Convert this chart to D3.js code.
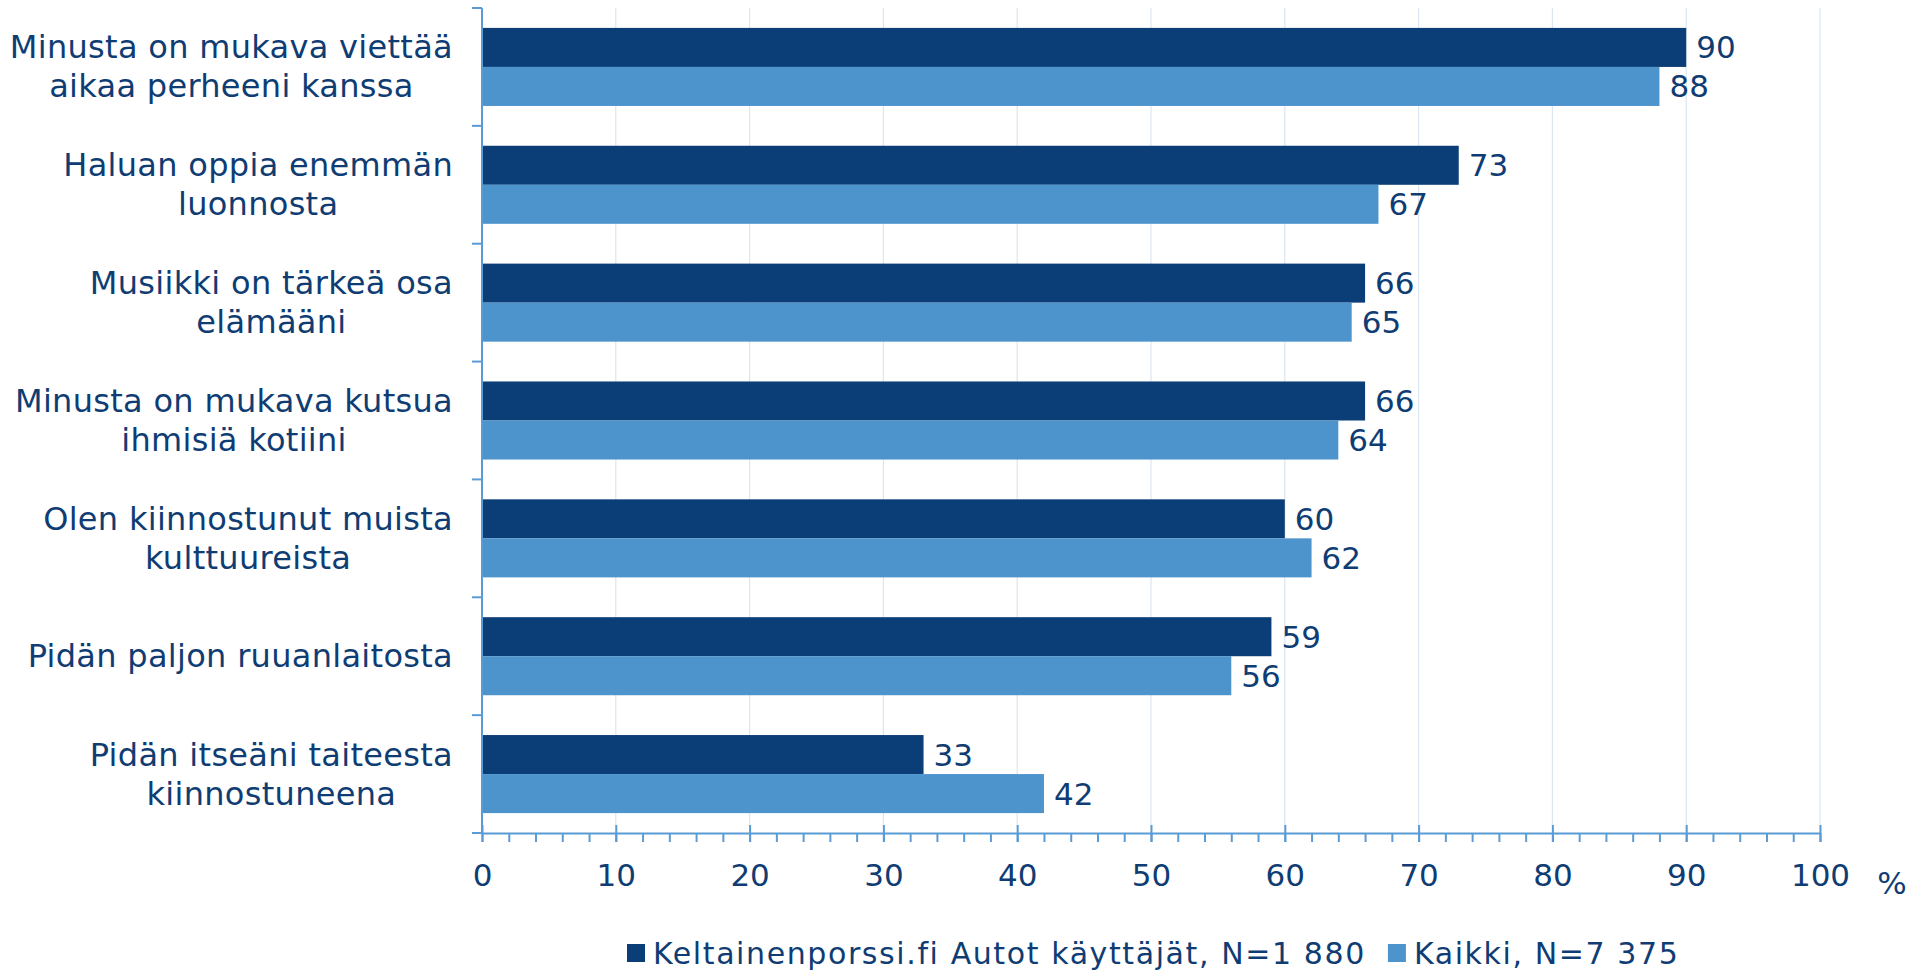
<!DOCTYPE html>
<html>
<head>
<meta charset="utf-8">
<script src="https://cdn.jsdelivr.net/npm/d3@7"></script>
<style>
  html, body { margin: 0; padding: 0; background: #fff; }
  svg text { font-family: "DejaVu Sans", Verdana, sans-serif; fill: #0f3d73; }
</style>
</head>
<body>
<div id="chart"></div>
<script>
// Chart data
const categories = [
  ["Minusta on mukava viettää", "aikaa perheeni kanssa"],
  ["Haluan oppia enemmän", "luonnosta"],
  ["Musiikki on tärkeä osa", "elämääni"],
  ["Minusta on mukava kutsua", "ihmisiä kotiini"],
  ["Olen kiinnostunut muista", "kulttuureista"],
  ["Pidän paljon ruuanlaitosta"],
  ["Pidän itseäni taiteesta", "kiinnostuneena"]
];
const seriesNames = ["Keltainenporssi.fi Autot käyttäjät, N=1 880", "Kaikki, N=7 375"];
const autotValues = [90, 73, 66, 66, 60, 59, 33];
const kaikkiValues = [88, 67, 65, 64, 62, 56, 42];
const xTicks = [0, 10, 20, 30, 40, 50, 60, 70, 80, 90, 100];
const colors = ["#0b3d77", "#4d94cd"];

const W = 1929, H = 971;
const plotLeft = 482, plotRight = 1820, plotTop = 8, plotBottom = 833;

const svg = d3.select("#chart").append("svg")
  .attr("width", W).attr("height", H);

const x = d3.scaleLinear().domain([0, 100]).range([plotLeft, plotRight]);
const catIdx = d3.range(categories.length);
const y0 = d3.scaleBand().domain(catIdx).range([plotTop, plotBottom]);
const y1 = d3.scaleBand().domain([0, 1]).range([0, y0.bandwidth()]).paddingOuter(0.51);

// gridlines
svg.append("g").selectAll("line")
  .data(xTicks.filter(d => d > 0))
  .join("line")
  .attr("x1", d => x(d)).attr("x2", d => x(d))
  .attr("y1", plotTop).attr("y2", plotBottom)
  .attr("stroke", "#dbe6f3").attr("stroke-width", 1.2);

// bars
const rows = catIdx.map(i => [autotValues[i], kaikkiValues[i]]);
const groups = svg.append("g").selectAll("g")
  .data(rows)
  .join("g")
  .attr("transform", (d, i) => `translate(0,${y0(i)})`);

groups.selectAll("rect")
  .data(d => d.map((v, s) => ({ v, s })))
  .join("rect")
  .attr("x", x(0))
  .attr("y", d => y1(d.s))
  .attr("width", d => x(d.v) - x(0))
  .attr("height", y1.bandwidth())
  .attr("fill", d => colors[d.s]);

groups.selectAll("text.val")
  .data(d => d.map((v, s) => ({ v, s })))
  .join("text")
  .attr("class", "val")
  .attr("x", d => x(d.v) + 10)
  .attr("y", d => y1(d.s) + y1.bandwidth() / 2 + 11)
  .attr("font-size", 31)
  .text(d => d.v);

// bottom axis: minor ticks
const minor = svg.append("g")
  .attr("transform", `translate(0,${plotBottom})`)
  .call(d3.axisBottom(x).tickValues(d3.range(0, 101, 2)).tickSize(9).tickSizeOuter(0).tickFormat(""));
minor.select(".domain").attr("stroke", "#5b9bd5").attr("stroke-width", 2.2);
minor.selectAll(".tick line").attr("stroke", "#5b9bd5").attr("stroke-width", 2);

// major ticks with labels
const major = svg.append("g")
  .attr("transform", `translate(0,${plotBottom})`)
  .call(d3.axisBottom(x).tickValues(xTicks).tickSize(9).tickPadding(22).tickFormat(d3.format("d")));
major.select(".domain").remove();
major.selectAll(".tick line").attr("y1", -8).attr("stroke", "#5b9bd5").attr("stroke-width", 2);
major.selectAll(".tick text")
  .attr("font-size", 31)
  .attr("font-family", "DejaVu Sans, Verdana, sans-serif")
  .attr("fill", "#0f3d73");

svg.append("text")
  .attr("x", 1892).attr("y", 894)
  .attr("text-anchor", "middle")
  .attr("font-size", 31)
  .text("%");

// left axis
svg.append("line")
  .attr("x1", plotLeft).attr("x2", plotLeft).attr("y1", plotTop).attr("y2", plotBottom)
  .attr("stroke", "#5b9bd5").attr("stroke-width", 2);
svg.append("g").selectAll("line")
  .data(d3.range(categories.length + 1))
  .join("line")
  .attr("x1", plotLeft - 10).attr("x2", plotLeft)
  .attr("y1", i => plotTop + i * y0.step()).attr("y2", i => plotTop + i * y0.step())
  .attr("stroke", "#5b9bd5").attr("stroke-width", 2);

// category labels
const labelRight = 453, lineH = 39;
categories.forEach((lines, i) => {
  const cy = y0(i) + y0.bandwidth() / 2;
  const g = svg.append("g");
  const texts = lines.map((t, k) => g.append("text")
    .attr("font-size", 32)
    .attr("letter-spacing", 0.3)
    .attr("text-anchor", "middle")
    .attr("y", cy + 11 + (k - (lines.length - 1) / 2) * lineH)
    .text(t));
  const maxW = d3.max(texts, t => t.node().getComputedTextLength());
  texts.forEach(t => t.attr("x", labelRight - maxW / 2));
});

// legend, laid out left to right
const legend = svg.append("g");
let lx = 627;
seriesNames.forEach((name, s) => {
  legend.append("rect")
    .attr("x", lx).attr("y", 944)
    .attr("width", 18).attr("height", 18)
    .attr("fill", colors[s]);
  const t = legend.append("text")
    .attr("x", lx + 26).attr("y", 964)
    .attr("font-size", 30)
    .attr("letter-spacing", 1.6)
    .text(name);
  lx += 26 + t.node().getComputedTextLength() + 22;
});
</script>
</body>
</html>
